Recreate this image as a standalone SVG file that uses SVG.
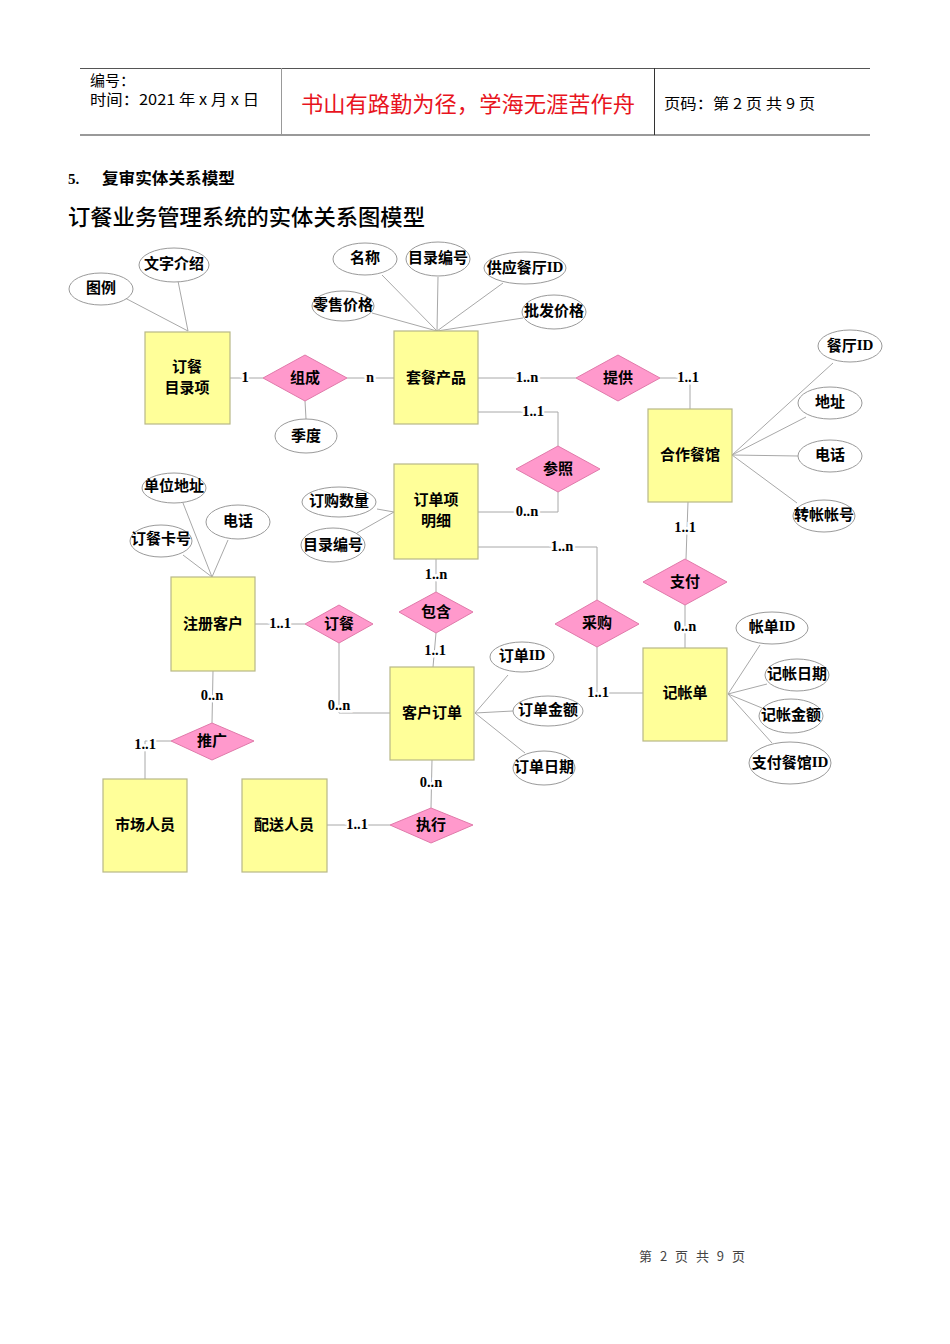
<svg xmlns="http://www.w3.org/2000/svg" width="950" height="1344" viewBox="0 0 950 1344">
<style>
.ent{fill:#FFFF99;stroke:#B8B888;stroke-width:1.2}
.rel{fill:#FF99CC;stroke:#E07AAA;stroke-width:1}
.att{fill:#fff;stroke:#9A9A9A;stroke-width:1}
.ln{fill:none;stroke:#A8A8A8;stroke-width:1}
.t{font-family:"Noto Sans CJK SC",sans-serif;font-size:15px;font-weight:bold;fill:#000;text-anchor:middle;dominant-baseline:central;transform:translateY(-1.5px)}
.lbl{font-family:"Liberation Serif",serif;font-size:14.5px;font-weight:bold;fill:#000;text-anchor:middle;dominant-baseline:central;stroke:#fff;stroke-width:5;paint-order:stroke}
.id{font-family:"Liberation Serif",serif}
.hd{font-family:"Noto Sans CJK SC",sans-serif;font-size:15px;fill:#000}
</style>
<rect width="950" height="1344" fill="#fff"/>
<g id="header">
<line x1="80" y1="68.5" x2="870" y2="68.5" stroke="#555" stroke-width="1"/>
<line x1="80" y1="135" x2="870" y2="135" stroke="#999" stroke-width="2"/>
<line x1="281.5" y1="68" x2="281.5" y2="135" stroke="#999" stroke-width="1"/>
<line x1="654.5" y1="68" x2="654.5" y2="135" stroke="#333" stroke-width="1"/>
<text class="hd" x="90" y="86">编号：</text>
<text class="hd" x="90" y="105" textLength="169" lengthAdjust="spacingAndGlyphs">时间：2021 年 x 月 x 日</text>
<text x="301" y="112" font-family="Noto Sans CJK SC,sans-serif" font-size="22" fill="#E8141E" textLength="334" lengthAdjust="spacingAndGlyphs">书山有路勤为径，学海无涯苦作舟</text>
<text class="hd" x="664" y="109" textLength="151" lengthAdjust="spacingAndGlyphs">页码：第 2 页  共 9 页</text>
</g>
<text x="68" y="184" font-family="Liberation Serif,serif" font-size="15" font-weight="bold">5.</text>
<text x="102" y="184" font-family="Noto Sans CJK SC,sans-serif" font-size="16" font-weight="bold" textLength="133" lengthAdjust="spacingAndGlyphs">复审实体关系模型</text>
<text x="68" y="225" font-family="Noto Sans CJK SC,sans-serif" font-size="22" font-weight="500" textLength="357" lengthAdjust="spacingAndGlyphs">订餐业务管理系统的实体关系图模型</text>

<g id="connectors">
<line class="ln" x1="125" y1="298" x2="188" y2="331"/>
<line class="ln" x1="178" y1="281" x2="188" y2="331"/>
<line class="ln" x1="372" y1="313" x2="437" y2="331"/>
<line class="ln" x1="382" y1="275" x2="437" y2="331"/>
<line class="ln" x1="438" y1="277" x2="437" y2="331"/>
<line class="ln" x1="503" y1="283" x2="437" y2="331"/>
<line class="ln" x1="523" y1="318" x2="437" y2="331"/>
<line class="ln" x1="230" y1="378" x2="263" y2="378"/>
<line class="ln" x1="347" y1="378" x2="394" y2="378"/>
<line class="ln" x1="305" y1="401" x2="306" y2="419"/>
<line class="ln" x1="478" y1="378" x2="576" y2="378"/>
<polyline class="ln" points="660,378 690,378 690,409"/>
<polyline class="ln" points="478,412 558,412 558,446"/>
<polyline class="ln" points="558,492 558,512 478,512"/>
<polyline class="ln" points="478,547 597,547 597,600"/>
<polyline class="ln" points="597,647 597,693 643,693"/>
<line class="ln" x1="688" y1="502" x2="686" y2="559"/>
<line class="ln" x1="685" y1="605" x2="685" y2="648"/>
<line class="ln" x1="732" y1="455" x2="833" y2="363"/>
<line class="ln" x1="732" y1="455" x2="806" y2="417"/>
<line class="ln" x1="732" y1="455" x2="798" y2="456"/>
<line class="ln" x1="732" y1="455" x2="797" y2="503"/>
<line class="ln" x1="394" y1="512" x2="377" y2="509"/>
<line class="ln" x1="394" y1="512" x2="357" y2="533"/>
<line class="ln" x1="436" y1="559" x2="436" y2="592"/>
<line class="ln" x1="436" y1="633" x2="433" y2="667"/>
<line class="ln" x1="212" y1="577" x2="183" y2="503"/>
<line class="ln" x1="212" y1="577" x2="228" y2="540"/>
<line class="ln" x1="212" y1="577" x2="183" y2="555"/>
<line class="ln" x1="255" y1="624" x2="305" y2="624"/>
<polyline class="ln" points="339,643 339,713 390,713"/>
<line class="ln" x1="213" y1="671" x2="212" y2="723"/>
<polyline class="ln" points="171,741 145,741 145,779"/>
<line class="ln" x1="432" y1="760" x2="431" y2="808"/>
<line class="ln" x1="327" y1="825" x2="390" y2="825"/>
<line class="ln" x1="475" y1="713" x2="508" y2="675"/>
<line class="ln" x1="475" y1="713" x2="513" y2="711"/>
<line class="ln" x1="475" y1="713" x2="525" y2="753"/>
<line class="ln" x1="728" y1="694" x2="760" y2="645"/>
<line class="ln" x1="728" y1="694" x2="767" y2="684"/>
<line class="ln" x1="728" y1="694" x2="762" y2="708"/>
<line class="ln" x1="728" y1="694" x2="772" y2="743"/>
<text class="lbl" x="245" y="377">1</text>
<text class="lbl" x="370" y="377">n</text>
<text class="lbl" x="527" y="377">1..n</text>
<text class="lbl" x="688" y="377">1..1</text>
<text class="lbl" x="533" y="411">1..1</text>
<text class="lbl" x="527" y="511">0..n</text>
<text class="lbl" x="562" y="546">1..n</text>
<text class="lbl" x="598" y="692">1..1</text>
<text class="lbl" x="685" y="527">1..1</text>
<text class="lbl" x="685" y="626">0..n</text>
<text class="lbl" x="436" y="574">1..n</text>
<text class="lbl" x="435" y="650">1..1</text>
<text class="lbl" x="280" y="623">1..1</text>
<text class="lbl" x="339" y="705">0..n</text>
<text class="lbl" x="212" y="695">0..n</text>
<text class="lbl" x="145" y="744">1..1</text>
<text class="lbl" x="431" y="782">0..n</text>
<text class="lbl" x="357" y="824">1..1</text>
</g>

<g id="e-dingcanmuluxiang"><rect class="ent" x="145" y="332" width="85" height="92"/><text class="t" x="187" y="367">订餐</text><text class="t" x="187" y="388">目录项</text></g>
<g id="e-taocanchanpin"><rect class="ent" x="394" y="331" width="84" height="93"/><text class="t" x="436" y="378">套餐产品</text></g>
<g id="e-hezuocanguan"><rect class="ent" x="648" y="409" width="84" height="93"/><text class="t" x="690" y="455">合作餐馆</text></g>
<g id="e-dingdanxiang"><rect class="ent" x="394" y="464" width="84" height="95"/><text class="t" x="436" y="500">订单项</text><text class="t" x="436" y="521">明细</text></g>
<g id="e-zhucekehu"><rect class="ent" x="171" y="577" width="84" height="94"/><text class="t" x="213" y="624">注册客户</text></g>
<g id="e-kehudingdan"><rect class="ent" x="390" y="667" width="84" height="93"/><text class="t" x="432" y="713">客户订单</text></g>
<g id="e-jizhangdan"><rect class="ent" x="643" y="648" width="84" height="93"/><text class="t" x="685" y="693">记帐单</text></g>
<g id="e-shichangrenyuan"><rect class="ent" x="103" y="779" width="84" height="93"/><text class="t" x="145" y="825">市场人员</text></g>
<g id="e-peisongrenyuan"><rect class="ent" x="242" y="779" width="85" height="93"/><text class="t" x="284" y="825">配送人员</text></g>

<g id="r-zucheng"><polygon class="rel" points="263,378 305,355 347,378 305,401"/><text class="t" x="305" y="378">组成</text></g>
<g id="r-tigong"><polygon class="rel" points="576,378 618,355 660,378 618,401"/><text class="t" x="618" y="378">提供</text></g>
<g id="r-canzhao"><polygon class="rel" points="516,469 558,446 600,469 558,492"/><text class="t" x="558" y="469">参照</text></g>
<g id="r-zhifu"><polygon class="rel" points="643,582 685,559 727,582 685,605"/><text class="t" x="685" y="582">支付</text></g>
<g id="r-dingcan"><polygon class="rel" points="305,624 339,605 373,624 339,643"/><text class="t" x="339" y="624">订餐</text></g>
<g id="r-baohan"><polygon class="rel" points="399,612 436,592 473,612 436,633"/><text class="t" x="436" y="612">包含</text></g>
<g id="r-caigou"><polygon class="rel" points="555,624 597,600 639,624 597,647"/><text class="t" x="597" y="623">采购</text></g>
<g id="r-tuiguang"><polygon class="rel" points="171,741 212,723 254,741 212,760"/><text class="t" x="212" y="741">推广</text></g>
<g id="r-zhixing"><polygon class="rel" points="390,825 431,808 473,825 431,843"/><text class="t" x="431" y="825">执行</text></g>

<g id="a-wenzijieshao"><ellipse class="att" cx="174" cy="265" rx="35" ry="17"/><text class="t" x="174" y="264">文字介绍</text></g>
<g id="a-tuli"><ellipse class="att" cx="101" cy="289" rx="32" ry="16"/><text class="t" x="101" y="288">图例</text></g>
<g id="a-mingcheng"><ellipse class="att" cx="365" cy="259" rx="32" ry="16"/><text class="t" x="365" y="258">名称</text></g>
<g id="a-mulubianhao1"><ellipse class="att" cx="438" cy="259" rx="32" ry="17"/><text class="t" x="438" y="258">目录编号</text></g>
<g id="a-gongyingcantingid"><ellipse class="att" cx="525" cy="268" rx="41" ry="16"/><text class="t" x="525" y="268">供应餐厅<tspan class="id">ID</tspan></text></g>
<g id="a-lingshoujiage"><ellipse class="att" cx="343" cy="306" rx="31" ry="15"/><text class="t" x="343" y="305">零售价格</text></g>
<g id="a-pifajiage"><ellipse class="att" cx="554" cy="312" rx="32" ry="17"/><text class="t" x="554" y="311">批发价格</text></g>
<g id="a-jidu"><ellipse class="att" cx="306" cy="436" rx="31" ry="17"/><text class="t" x="306" y="436">季度</text></g>
<g id="a-cantingid"><ellipse class="att" cx="850" cy="346" rx="32" ry="16"/><text class="t" x="850" y="346">餐厅<tspan class="id">ID</tspan></text></g>
<g id="a-dizhi"><ellipse class="att" cx="830" cy="403" rx="32" ry="16"/><text class="t" x="830" y="402">地址</text></g>
<g id="a-dianhua1"><ellipse class="att" cx="830" cy="456" rx="32" ry="16"/><text class="t" x="830" y="455">电话</text></g>
<g id="a-zhuanzhangzhanghao"><ellipse class="att" cx="824" cy="516" rx="31" ry="16"/><text class="t" x="824" y="515">转帐帐号</text></g>
<g id="a-danweidizhi"><ellipse class="att" cx="174" cy="488" rx="32" ry="15"/><text class="t" x="174" y="486">单位地址</text></g>
<g id="a-dianhua2"><ellipse class="att" cx="238" cy="522" rx="32" ry="17"/><text class="t" x="238" y="521">电话</text></g>
<g id="a-dingcankahao"><ellipse class="att" cx="161" cy="541" rx="31" ry="16"/><text class="t" x="161" y="539">订餐卡号</text></g>
<g id="a-dinggoushuliang"><ellipse class="att" cx="339" cy="502" rx="37" ry="15"/><text class="t" x="339" y="501">订购数量</text></g>
<g id="a-mulubianhao2"><ellipse class="att" cx="333" cy="545" rx="32" ry="17"/><text class="t" x="333" y="545">目录编号</text></g>
<g id="a-dingdanid"><ellipse class="att" cx="522" cy="657" rx="32" ry="15"/><text class="t" x="522" y="656">订单<tspan class="id">ID</tspan></text></g>
<g id="a-dingdanjine"><ellipse class="att" cx="548" cy="711" rx="35" ry="15"/><text class="t" x="548" y="710">订单金额</text></g>
<g id="a-dingdanriqi"><ellipse class="att" cx="544" cy="768" rx="31" ry="17"/><text class="t" x="544" y="767">订单日期</text></g>
<g id="a-zhangdanid"><ellipse class="att" cx="772" cy="628" rx="36" ry="16"/><text class="t" x="772" y="627">帐单<tspan class="id">ID</tspan></text></g>
<g id="a-jizhangriqi"><ellipse class="att" cx="797" cy="675" rx="32" ry="16"/><text class="t" x="797" y="674">记帐日期</text></g>
<g id="a-jizhangjine"><ellipse class="att" cx="791" cy="716" rx="32" ry="17"/><text class="t" x="791" y="715">记帐金额</text></g>
<g id="a-zhifucanguanid"><ellipse class="att" cx="790" cy="763" rx="41" ry="21"/><text class="t" x="790" y="763">支付餐馆<tspan class="id">ID</tspan></text></g>

<text x="639" y="1261" font-family="Noto Sans CJK SC,sans-serif" font-size="13" fill="#444" textLength="106" lengthAdjust="spacing">第 2 页 共 9 页</text>
</svg>
